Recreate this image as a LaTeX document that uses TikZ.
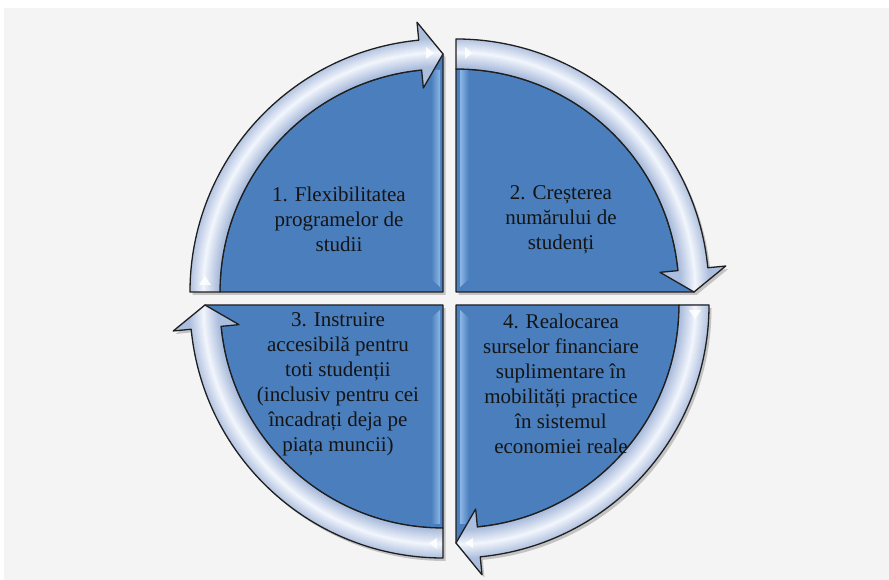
\documentclass[tikz,border=0pt]{standalone}
\usepackage{fontspec}
\setmainfont{Liberation Serif}
\definecolor{bgc}{RGB}{244,244,244}
\definecolor{bluec}{RGB}{74,126,188}
\definecolor{bandA}{RGB}{172,190,222}
\definecolor{bandE}{RGB}{240,244,251}
\definecolor{stripeL}{RGB}{212,234,253}
\definecolor{stripeE}{RGB}{140,182,230}
\definecolor{txtc}{RGB}{20,20,20}
\tikzset{
  outl/.style={draw=black!88,line width=1.3,line join=round},
  shadowc/.style={fill=black,opacity=0.2},
  txt/.style={align=center,inner sep=0pt,text=txtc,font=\fontsize{21}{25}\selectfont},
  glint/.style={fill=white,opacity=0.85}
}
\newcommand\qshadow[2]{\begin{scope}[shift={(#1)},shift={(2.5,-3)},rotate=#2]
\fill[shadowc] (0,0) -- (180:223) arc[start angle=180,end angle=95.5,radius=223] -- (90:238) -- cycle
 (180:253) arc[start angle=180,end angle=95.5,radius=253] -- (95.5:271) -- (90:238) -- (95.5:205) -- (95.5:223) arc[start angle=95.5,end angle=180,radius=223] -- cycle;
\end{scope}}
\newcommand\qblue[2]{\begin{scope}[shift={(#1)},rotate=#2]
\fill[bluec] (0,0) -- (180:223) arc[start angle=180,end angle=95.5,radius=223] -- (90:238) -- cycle;
\end{scope}}
\newcommand\qblueline[2]{\begin{scope}[shift={(#1)},rotate=#2]
\draw[outl] (0,0) -- (180:223) arc[start angle=180,end angle=95.5,radius=223] -- (90:238) -- cycle;
\end{scope}}
\newcommand\qarrow[2]{\begin{scope}[shift={(#1)},rotate=#2]
\fill[bandA] (180:253) arc[start angle=180,end angle=95.5,radius=253] -- (95.5:271) -- (90:238) -- (95.5:205) -- (95.5:223) arc[start angle=95.5,end angle=180,radius=223] -- cycle;
\begin{scope}
\clip (180:253) arc[start angle=180,end angle=95.5,radius=253] -- (95.5:271) -- (90:238) -- (95.5:205) -- (95.5:223) arc[start angle=95.5,end angle=180,radius=223] -- cycle;
\foreach \i in {0,...,14}{
  \pgfmathsetmacro\w{30-2*\i}
  \pgfmathsetmacro\p{\i*100/14}
  \draw[bandE!\p!bandA,line width=\w] (182:239.5) arc[start angle=182,end angle=88,radius=239.5];
}
\end{scope}
\draw[outl] (180:253) arc[start angle=180,end angle=95.5,radius=253] -- (95.5:271) -- (90:238) -- (95.5:205) -- (95.5:223) arc[start angle=95.5,end angle=180,radius=223] -- cycle;
\end{scope}}
\begin{document}
\begin{tikzpicture}[x=1pt,y=1pt]
\useasboundingbox (0,0) rectangle (889,580);
\fill[white] (0,0) rectangle (889,580);
\fill[bgc] (4,0) rectangle (889,572);
% shadows
\qshadow{443,288}{0}
\qshadow{456,288}{-90}
\qshadow{443,275}{90}
\qshadow{456,275}{180}
% blue quadrants
\qblue{443,288}{0}
\qblue{456,288}{-90}
\qblue{443,275}{90}
\qblue{456,275}{180}
% bevel stripes
\shade[left color=bluec,middle color=stripeL,right color=stripeE] (431,301) -- (431,510) -- (440,510) -- (440,293) -- cycle;
\shade[left color=stripeE,middle color=stripeL,right color=bluec] (460,293) -- (460,510) -- (469,510) -- (469,301) -- cycle;
\shade[left color=bluec,middle color=stripeL,right color=stripeE] (431,262) -- (431,56) -- (440,56) -- (440,270) -- cycle;
\shade[left color=stripeE,middle color=stripeL,right color=bluec] (460,270) -- (460,56) -- (469,56) -- (469,262) -- cycle;
% outlines of blue quadrants
\qblueline{443,288}{0}
\qblueline{456,288}{-90}
\qblueline{443,275}{90}
\qblueline{456,275}{180}
% arrows
\qarrow{443,288}{0}
\qarrow{456,288}{-90}
\qarrow{443,275}{90}
\qarrow{456,275}{180}
% glints
\fill[glint] (426,533) -- (426,521) -- (434,527) -- cycle;
\fill[glint] (465,533) -- (465,521) -- (472,527) -- cycle;
\fill[glint] (437,42) -- (437,31) -- (429,37) -- cycle;
\fill[glint] (689,270) -- (701,270) -- (695,261) -- cycle;
\fill[glint] (465,37) -- (473,42) -- (473,32) -- cycle;
\fill[glint] (199,295) -- (211,295) -- (205,304) -- cycle;
% texts
\node[txt] (t1) at (339,360.5) {1. Flexibilitatea\\programelor de\\studii};
\node[txt] (t2) at (561,360.5) {2. Creșterea\\numărului de\\studenți};
\node[txt] (t3) at (338,196) {3. Instruire\\accesibilă pentru\\toti studenții\\(inclusiv pentru cei\\încadrați deja pe\\piața muncii)};
\node[txt] (t4) at (561,196) {4. Realocarea\\surselor financiare\\suplimentare în\\mobilități practice\\în sistemul\\economiei reale};
\end{tikzpicture}
\end{document}
